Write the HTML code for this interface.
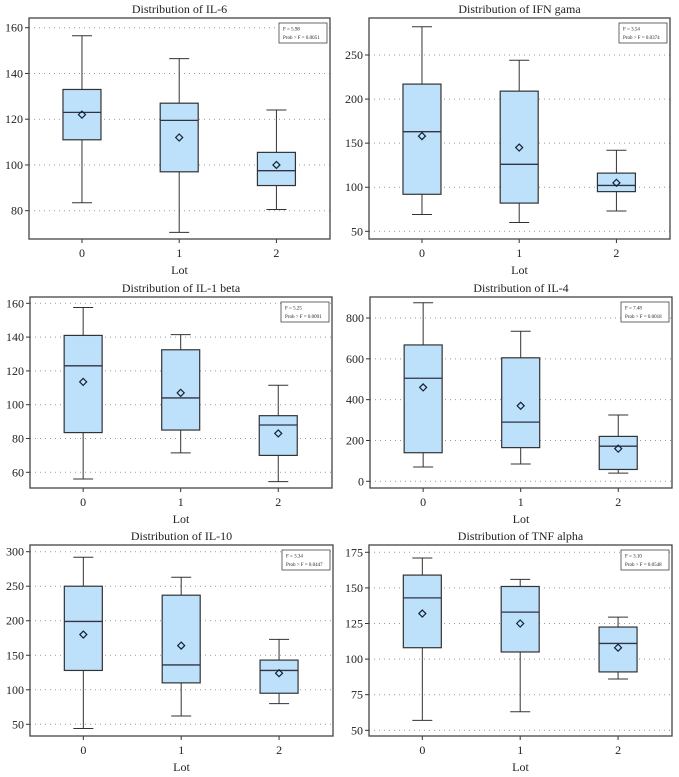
<!DOCTYPE html>
<html><head><meta charset="utf-8"><style>
body{margin:0;background:#fff}
svg{display:block;font-family:"Liberation Serif",serif}
</style></head><body>
<svg id="c" width="679" height="777" viewBox="0 0 679 777"></svg>
<script>
const categories=["0","1","2"];
const titles=["Distribution of IL-6","Distribution of IFN gama","Distribution of IL-1 beta","Distribution of IL-4","Distribution of IL-10","Distribution of TNF alpha"];
const fValues=["5.98","3.54","5.25","7.48","3.34","3.10"];
const pValues=["0.0051","0.0374","0.0091","0.0018","0.0447","0.0548"];
const ticksIL6=[80,100,120,140,160];
const ticksIFN=[50,100,150,200,250];
const ticksIL1=[60,80,100,120,140,160];
const ticksIL4=[0,200,400,600,800];
const ticksIL10=[50,100,150,200,250,300];
const ticksTNF=[50,75,100,125,150,175];
// [min,q1,median,q3,max,mean] per lot
const statsIL6=[[83.5,111,123,133,156.5,122],[70.5,97,119.5,127,146.5,112],[80.5,91,97.5,105.5,124,100]];
const statsIFN=[[69,92,163,217,282,158],[60,82,126,209,244,145],[73,95,102,116,142,105]];
const statsIL1=[[56,83.5,123,141,157.5,113.5],[71.5,85,104,132.5,141.5,107],[54.5,70,88,93.5,111.5,83]];
const statsIL4=[[70,140,505,668,875,460],[85,165,290,605,735,370],[40,58,172,220,325,160]];
const statsIL10=[[44,128,199,250,292,180],[62,110,136,237,263,164],[80,95,128,143,173,124]];
const statsTNF=[[57,108,143,159,171,132],[63,105,133,151,156,125],[86,91,111,122.5,129.5,108]];

const ticks=[ticksIL6,ticksIFN,ticksIL1,ticksIL4,ticksIL10,ticksTNF];
const stats=[statsIL6,statsIFN,statsIL1,statsIL4,statsIL10,statsTNF];
// layout: frame and tick pixel refs (first & last tick)
const frames=[
 {x0:29,x1:330,y0:18,y1:239,ty0:210.7,ty1:27.7},
 {x0:369,x1:670,y0:18,y1:239,ty0:231.3,ty1:55},
 {x0:30,x1:332,y0:297,y1:488,ty0:472.3,ty1:303.3},
 {x0:370,x1:672,y0:297,y1:488,ty0:481.3,ty1:318},
 {x0:30,x1:333,y0:545,y1:736,ty0:724.3,ty1:551.7},
 {x0:369,x1:672,y0:545,y1:736,ty0:730.3,ty1:552.3}];
const names=["il6","ifn-gama","il1-beta","il4","il10","tnf-alpha"];
const NS="http://www.w3.org/2000/svg";
const svg=document.getElementById('c');
function mk(tag,attrs,parent,text){const e=document.createElementNS(NS,tag);for(const k in attrs)e.setAttribute(k,attrs[k]);if(text!==undefined)e.textContent=text;parent.appendChild(e);return e;}
frames.forEach((f,i)=>{
 const g=mk('g',{},svg);
 
 
 const t=ticks[i];const v0=t[0],v1=t[t.length-1];
 const y=v=>f.ty0+(v-v0)*(f.ty1-f.ty0)/(v1-v0);
 const w=f.x1-f.x0;
 const x=k=>f.x0+w*(0.176+k*0.323);
 const title=mk('text',{x:(f.x0+f.x1)/2,y:f.y0-5,'text-anchor':'middle','font-size':12,fill:'#222'},g,titles[i]);
 
 
 t.forEach(tv=>{
  const gl=mk('line',{x1:f.x0,x2:f.x1,y1:y(tv),y2:y(tv),stroke:'#999','stroke-width':1,'stroke-dasharray':'1,4'},g);
  
  
  mk('line',{x1:f.x0-4,x2:f.x0,y1:y(tv),y2:y(tv),stroke:'#333'},g);
  const tl=mk('text',{x:f.x0-6,y:y(tv)+4,'text-anchor':'end','font-size':12,fill:'#222'},g,String(tv));
  
  
 });
 stats[i].forEach((s,k)=>{
  const cx=x(k),hw=19,cw=10;
  const b=mk('g',{},g);
  
  
  mk('line',{x1:cx,x2:cx,y1:y(s[0]),y2:y(s[1]),stroke:'#333'},b);
  mk('line',{x1:cx,x2:cx,y1:y(s[3]),y2:y(s[4]),stroke:'#333'},b);
  mk('line',{x1:cx-cw,x2:cx+cw,y1:y(s[0]),y2:y(s[0]),stroke:'#333'},b);
  mk('line',{x1:cx-cw,x2:cx+cw,y1:y(s[4]),y2:y(s[4]),stroke:'#333'},b);
  mk('rect',{x:cx-hw,y:y(s[3]),width:2*hw,height:y(s[1])-y(s[3]),fill:'#bde0fb',stroke:'#333','stroke-width':1.2},b);
  mk('line',{x1:cx-hw,x2:cx+hw,y1:y(s[2]),y2:y(s[2]),stroke:'#334','stroke-width':1.3},b);
  const m=y(s[5]);
  mk('path',{d:`M${cx} ${m-3.5}L${cx+3.5} ${m}L${cx} ${m+3.5}L${cx-3.5} ${m}Z`,fill:'none',stroke:'#123','stroke-width':1.2},b);
  mk('line',{x1:cx,x2:cx,y1:f.y1,y2:f.y1+4,stroke:'#333'},g);
  const xl=mk('text',{x:cx,y:f.y1+18,'text-anchor':'middle','font-size':12,fill:'#222'},g,categories[k]);
  
  
 });
 const fr=mk('rect',{x:f.x0,y:f.y0,width:w,height:f.y1-f.y0,fill:'none',stroke:'#444','stroke-width':1.3},g);
 
 
 const lg=mk('g',{},g);
 
 
 mk('rect',{x:f.x1-51,y:f.y0+5,width:48,height:20,fill:'#fff',stroke:'#444','stroke-width':0.8},lg);
 mk('text',{x:f.x1-47,y:f.y0+12.5,'font-size':5,fill:'#222'},lg,'F = '+fValues[i]);
 mk('text',{x:f.x1-47,y:f.y0+21,'font-size':5,fill:'#222'},lg,'Prob > F = '+pValues[i]);
 const ax=mk('text',{x:(f.x0+f.x1)/2,y:f.y1+35,'text-anchor':'middle','font-size':12,fill:'#222'},g,'Lot');
 
 
});
</script>
</body></html>
